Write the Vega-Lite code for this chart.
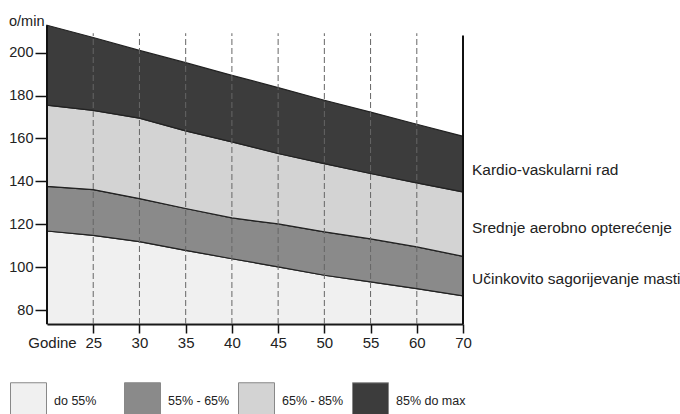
{
  "$schema": "https://vega.github.io/schema/vega-lite/v6.json",
  "width": 416,
  "height": 300,
  "autosize": "none",
  "padding": {"left": 47, "top": 24, "right": 217, "bottom": 90},
  "background": "white",
  "config": {
    "font": "Liberation Sans",
    "view": {"stroke": null},
    "legend": {
      "orient": "none",
      "legendX": -37,
      "legendY": 358,
      "direction": "horizontal",
      "columns": 4,
      "gridAlign": "all",
      "columnPadding": -2,
      "symbolType": "square",
      "symbolSize": 1296,
      "symbolStrokeColor": "#888888",
      "symbolStrokeWidth": 1,
      "symbolOpacity": 1,
      "labelFontSize": 12.5,
      "labelOffset": 7,
      "labelColor": "#222222",
      "labelFont": "Liberation Sans",
      "padding": 0
    }
  },
  "datasets": {
    "zone": [
      {"godine": 20, "g55": 116.9, "g65": 137.7, "g85": 175.5, "vrh": 212.7},
      {"godine": 25, "g55": 114.9, "g65": 136.2, "g85": 173.1, "vrh": 207.0},
      {"godine": 30, "g55": 112.0, "g65": 132.0, "g85": 169.5, "vrh": 201.0},
      {"godine": 35, "g55": 107.9, "g65": 127.4, "g85": 163.5, "vrh": 195.3},
      {"godine": 40, "g55": 104.0, "g65": 123.0, "g85": 158.4, "vrh": 189.4},
      {"godine": 45, "g55": 100.2, "g65": 120.2, "g85": 153.0, "vrh": 183.7},
      {"godine": 50, "g55": 96.3, "g65": 116.5, "g85": 148.3, "vrh": 177.8},
      {"godine": 55, "g55": 93.2, "g65": 113.2, "g85": 143.7, "vrh": 172.3},
      {"godine": 60, "g55": 90.1, "g65": 109.5, "g85": 139.3, "vrh": 166.6},
      {"godine": 70, "g55": 86.7, "g65": 105.1, "g85": 135.1, "vrh": 161.0}
    ],
    "mreza": [
      {"godine": 25, "od": 73.6, "do": 209},
      {"godine": 30, "od": 73.6, "do": 209},
      {"godine": 35, "od": 73.6, "do": 209},
      {"godine": 40, "od": 73.6, "do": 209},
      {"godine": 45, "od": 73.6, "do": 209},
      {"godine": 50, "od": 73.6, "do": 209},
      {"godine": 55, "od": 73.6, "do": 209},
      {"godine": 60, "od": 73.6, "do": 209}
    ],
    "okvir": [
      {"godine": 20, "od": 73.6, "do": 212.7},
      {"godine": 70, "od": 73.6, "do": 208}
    ],
    "oznake": [
      {"godine": 70, "puls": 145.2, "tekst": "Kardio-vaskularni rad"},
      {"godine": 70, "puls": 118.3, "tekst": "Srednje aerobno opterećenje"},
      {"godine": 70, "puls": 94.4, "tekst": "Učinkovito sagorijevanje masti"}
    ]
  },
  "encoding": {
    "x": {
      "field": "godine",
      "type": "quantitative",
      "scale": {"domain": [20, 60, 70], "range": [0, 369.8, 416], "nice": false, "zero": false},
      "axis": {
        "values": [25, 30, 35, 40, 45, 50, 55, 60, 70],
        "grid": false,
        "tickSize": 9,
        "tickColor": "#111111",
        "tickWidth": 1.5,
        "domainColor": "#111111",
        "domainWidth": 2,
        "labelFontSize": 15,
        "labelColor": "#222222",
        "labelPadding": 2,
        "labelFlush": false,
        "title": "Godine",
        "titleFontSize": 15,
        "titleFontWeight": "normal",
        "titleColor": "#222222",
        "titleX": 5,
        "titleY": 18,
        "titleAlign": "center",
        "titleBaseline": "middle"
      }
    }
  },
  "layer": [
    {
      "data": {"name": "zone"},
      "mark": {"type": "area", "stroke": "#222222", "strokeWidth": 1.2},
      "encoding": {
        "y": {
          "field": "g55",
          "type": "quantitative",
          "title": "o/min",
          "scale": {"domain": [73.6, 213.3], "nice": false, "zero": false},
          "axis": {
            "values": [80, 100, 120, 140, 160, 180, 200],
            "grid": false,
            "domain": false,
            "offset": -10,
            "tickSize": 22,
            "tickColor": "#111111",
            "tickWidth": 1.5,
            "labelPadding": 2,
            "labelFontSize": 14.5,
            "labelColor": "#222222",
            "titleAngle": 0,
            "titleX": -13,
            "titleY": -3,
            "titleAlign": "right",
            "titleBaseline": "middle",
            "titleFontWeight": "normal",
            "titleFontSize": 14.5,
            "titleColor": "#222222"
          }
        },
        "y2": {"datum": 73.6},
        "color": {
          "datum": "do 55%",
          "type": "nominal",
          "scale": {
            "domain": ["do 55%", "55% - 65%", "65% - 85%", "85% do max"],
            "range": ["#f0f0f0", "#8a8a8a", "#d3d3d3", "#3c3c3c"]
          },
          "legend": {"title": null}
        }
      }
    },
    {
      "data": {"name": "zone"},
      "mark": {"type": "area", "stroke": "#222222", "strokeWidth": 1.2},
      "encoding": {
        "y": {"field": "g65", "type": "quantitative", "title": "o/min"},
        "y2": {"field": "g55"},
        "color": {"datum": "55% - 65%", "type": "nominal"}
      }
    },
    {
      "data": {"name": "zone"},
      "mark": {"type": "area", "stroke": "#222222", "strokeWidth": 1.2},
      "encoding": {
        "y": {"field": "g85", "type": "quantitative", "title": "o/min"},
        "y2": {"field": "g65"},
        "color": {"datum": "65% - 85%", "type": "nominal"}
      }
    },
    {
      "data": {"name": "zone"},
      "mark": {"type": "area", "stroke": "#222222", "strokeWidth": 1.2},
      "encoding": {
        "y": {"field": "vrh", "type": "quantitative", "title": "o/min"},
        "y2": {"field": "g85"},
        "color": {"datum": "85% do max", "type": "nominal"}
      }
    },
    {
      "data": {"name": "mreza"},
      "mark": {"type": "rule", "color": "#666666", "strokeWidth": 1, "strokeDash": [6, 3]},
      "encoding": {
        "y": {"field": "od", "type": "quantitative", "title": "o/min"},
        "y2": {"field": "do"}
      }
    },
    {
      "data": {"name": "okvir"},
      "mark": {"type": "rule", "color": "#111111", "strokeWidth": 2},
      "encoding": {
        "y": {"field": "od", "type": "quantitative", "title": "o/min"},
        "y2": {"field": "do"}
      }
    },
    {
      "data": {"name": "oznake"},
      "mark": {"type": "text", "align": "left", "baseline": "middle", "dx": 9, "fontSize": 15.5, "color": "#222222"},
      "encoding": {
        "y": {"field": "puls", "type": "quantitative", "title": "o/min"},
        "text": {"field": "tekst"}
      }
    }
  ]
}
